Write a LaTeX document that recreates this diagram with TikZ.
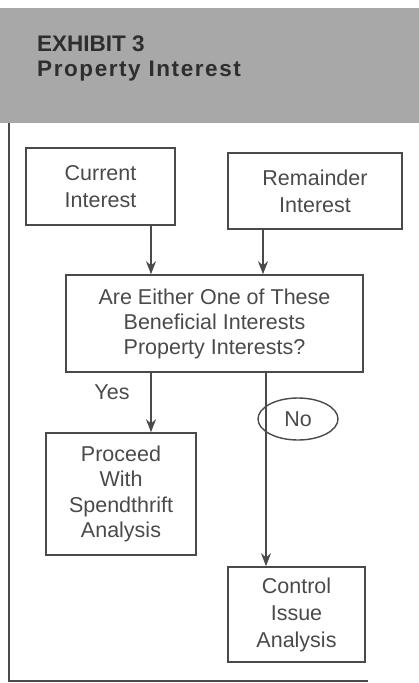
\documentclass[tikz,border=0pt]{standalone}
\usepackage{fontspec}
\setmainfont{Liberation Sans}
\usetikzlibrary{arrows.meta,shapes.geometric}
\definecolor{band}{HTML}{A8A8A8}
\definecolor{ink}{HTML}{4A4A4A}
\definecolor{hdr}{HTML}{2E2E2E}
\tikzset{
  box/.style={draw=ink, line width=1.6pt, text=ink, align=center, inner sep=0pt, font=\fontsize{21.5}{25.5}\selectfont},
  arr/.style={draw=ink, line width=1.6pt, -{Stealth[length=13pt,width=10pt]}},
  frame/.style={draw=ink, line width=1.8pt},
  lbl/.style={text=ink, inner sep=0pt, font=\fontsize{21.5}{25.5}\selectfont},
  hd/.style={text=hdr, anchor=base west, inner sep=0pt, font=\fontsize{22.5}{28}\selectfont\bfseries},
}
\begin{document}
\begin{tikzpicture}[x=1pt,y=-1pt]
\useasboundingbox (0,0) rectangle (419,683);
\fill[band] (0,8) rectangle (419,123);
\node[hd] (h1) at (37,51) {EXHIBIT 3};
\node[hd] (h2) at (37,76) {\addfontfeature{LetterSpace=7}Property Interest};
\coordinate (ftop) at (9,123);
\coordinate (fcorner) at (9,681);
\coordinate (fend) at (368,681);
\draw[frame] (ftop) -- (fcorner) -- (fend);
\node[box, minimum width=149pt, minimum height=77pt, font=\fontsize{21.5}{27}\selectfont] (cur) at (100.5,186.5) {Current\\Interest};
\node[box, minimum width=174pt, minimum height=76pt, font=\fontsize{21.5}{27}\selectfont] (rem) at (315,191) {Remainder\\Interest};
\node[box, minimum width=297pt, minimum height=97pt, font=\fontsize{21.5}{25}\selectfont] (q) at (214.5,323.5) {Are Either One of These\\Beneficial Interests\\Property Interests?};
\node[box, minimum width=150pt, minimum height=122pt] (pro) at (121,494) {Proceed\\With\\Spendthrift\\Analysis};
\node[box, minimum width=137pt, minimum height=95pt, font=\fontsize{21.5}{27}\selectfont] (ctl) at (296.5,614.5) {Control\\Issue\\Analysis};
\coordinate (xa) at (151,0);
\coordinate (xb) at (263,0);
\coordinate (xc) at (266,0);
\draw[arr] (cur.south -| xa) -- (q.north -| xa);
\draw[arr] (rem.south -| xb) -- (q.north -| xb);
\draw[arr] (q.south -| xa) -- (pro.north -| xa);
\draw[arr] (q.south -| xc) -- (ctl.north -| xc);
\node[lbl] (yes) at (112,392) {Yes};
\node[ellipse, draw=ink, line width=1.4pt, text=ink, minimum width=80pt, minimum height=42pt, inner sep=0pt, font=\fontsize{21.5}{25.5}\selectfont] (no) at (298,419) {No};
\end{tikzpicture}
\end{document}
